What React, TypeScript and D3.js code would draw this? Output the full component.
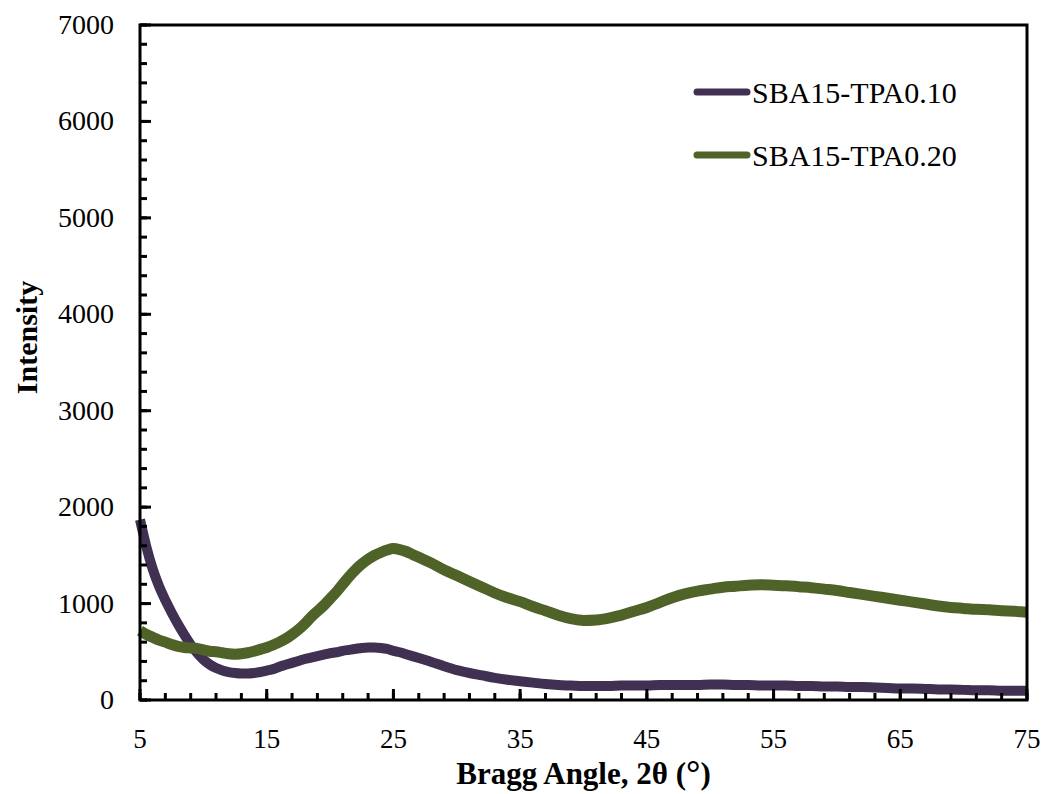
import React from "react";
import * as d3 from "d3";

// Diffraction angles (2θ, degrees) at which intensities were read
const angles: number[] = [
  5, 5.5, 6, 6.5, 7, 7.5, 8, 8.5, 9, 9.5, 10, 10.5, 11, 11.5, 12, 12.5, 13, 13.5, 14, 14.5,
  15, 15.5, 16, 16.5, 17, 17.5, 18, 18.5, 19, 19.5, 20, 20.5, 21, 21.5, 22, 22.5, 23, 23.5,
  24, 24.5, 25, 25.5, 26, 26.5, 27, 28, 29, 30, 31, 32, 33, 34, 35, 36, 37, 38, 39, 40, 41,
  42, 43, 44, 45, 46, 47, 48, 49, 50, 51, 52, 53, 54, 55, 56, 57, 58, 59, 60, 61, 62, 63, 64,
  65, 66, 67, 68, 69, 70, 71, 72, 73, 74, 75,
];

// SBA15-TPA0.10 intensity
const tpa010: number[] = [
  1870, 1590, 1360, 1180, 1035, 905, 785, 675, 575, 490, 420, 368, 332, 307, 290, 280, 275, 275, 280, 290,
  305, 320, 345, 365, 385, 405, 425, 440, 455, 470, 485, 495, 510, 520, 530, 540, 545, 545,
  540, 530, 510, 495, 475, 455, 435, 395, 350, 310, 280, 255, 230, 210, 195, 180, 165, 155, 150, 145, 145,
  145, 150, 150, 150, 155, 155, 155, 155, 160, 160, 155, 155, 150, 150, 150, 145, 145, 140, 140, 135, 135, 130, 125,
  120, 120, 115, 110, 110, 105, 100, 100, 95, 95, 95,
];

// SBA15-TPA0.20 intensity
const tpa020: number[] = [
  720, 680, 650, 620, 600, 575, 555, 545, 540, 535, 520, 505, 500, 490, 480, 475, 480, 490, 505, 525,
  545, 570, 600, 635, 680, 730, 790, 860, 920, 980, 1050, 1120, 1200, 1280, 1350, 1410, 1460, 1500,
  1530, 1555, 1570, 1560, 1540, 1510, 1480, 1420, 1350, 1290, 1230, 1170, 1110, 1060, 1020, 970, 925, 880, 845, 825, 830,
  850, 880, 920, 960, 1010, 1060, 1100, 1130, 1150, 1170, 1180, 1190, 1195, 1190, 1185, 1175, 1165, 1150, 1135, 1115, 1095, 1075, 1055,
  1035, 1015, 995, 975, 960, 950, 940, 935, 925, 920, 910,
];

const seriesNames: string[] = ["SBA15-TPA0.10", "SBA15-TPA0.20"];
const seriesColors: string[] = ["#403152", "#4F6228"];

const xTicks: number[] = [5, 15, 25, 35, 45, 55, 65, 75];
const yTicks: number[] = [0, 1000, 2000, 3000, 4000, 5000, 6000, 7000];

const W = 1043;
const H = 794;
const left = 140;
const right = 1027;
const top = 25;
const bottom = 700;
const font = "'Liberation Serif', 'Times New Roman', serif";

export default function App() {
  const x = d3.scaleLinear().domain([5, 75]).range([left, right]);
  const y = d3.scaleLinear().domain([0, 7000]).range([bottom, top]);

  const line = d3
    .line<number>()
    .x((_, i) => x(angles[i]))
    .y((v) => y(v))
    .curve(d3.curveMonotoneX);

  const xMinor = d3.range(5, 75.001, 2);
  const yMinor = d3.range(0, 7000.001, 200);

  const series = [tpa010, tpa020];
  const widths = [10, 11];

  return (
    <svg
      width={W}
      height={H}
      style={{ position: "absolute", left: 0, top: 0, background: "#fff" }}
      fontFamily={font}
    >
      {/* data lines */}
      {series.map((s, k) => (
        <path
          key={k}
          d={line(s) || ""}
          fill="none"
          stroke={seriesColors[k]}
          strokeWidth={widths[k]}
          strokeLinejoin="round"
        />
      ))}

      {/* minor ticks */}
      {xMinor.map((t) => (
        <line key={"xm" + t} x1={x(t)} x2={x(t)} y1={bottom} y2={bottom - 7} stroke="#000" strokeWidth={3} />
      ))}
      {yMinor.map((t) => (
        <line key={"ym" + t} x1={left} x2={left + 7} y1={y(t)} y2={y(t)} stroke="#000" strokeWidth={3} />
      ))}
      {/* major ticks */}
      {xTicks.map((t) => (
        <line key={"xM" + t} x1={x(t)} x2={x(t)} y1={bottom} y2={bottom - 11} stroke="#000" strokeWidth={3} />
      ))}
      {yTicks.map((t) => (
        <line key={"yM" + t} x1={left} x2={left + 11} y1={y(t)} y2={y(t)} stroke="#000" strokeWidth={3} />
      ))}

      {/* plot frame */}
      <rect x={left} y={top} width={right - left} height={bottom - top} fill="none" stroke="#000" strokeWidth={3} />

      {/* tick labels */}
      {xTicks.map((t) => (
        <text key={"xl" + t} x={x(t)} y={748} textAnchor="middle" fontSize={27}>
          {t}
        </text>
      ))}
      {yTicks.map((t) => (
        <text key={"yl" + t} x={114} y={y(t) + 9} textAnchor="end" fontSize={28}>
          {t}
        </text>
      ))}

      {/* axis titles */}
      <text x={(left + right) / 2} y={784} textAnchor="middle" fontSize={31} fontWeight="bold">
        Bragg Angle, 2θ (<tspan fontSize={36} dy={1}>°</tspan><tspan dy={-1}>)</tspan>
      </text>
      <text
        transform={`translate(37, ${(top + bottom) / 2 - 25}) rotate(-90)`}
        textAnchor="middle"
        fontSize={30}
        fontWeight="bold"
      >
        Intensity
      </text>

      {/* legend */}
      {seriesNames.map((name, k) => (
        <g key={name} transform={`translate(0, ${92 + k * 63})`}>
          <line x1={697} x2={747} y1={0} y2={0} stroke={seriesColors[k]} strokeWidth={7} strokeLinecap="round" />
          <text x={752} y={11} fontSize={30}>
            {name}
          </text>
        </g>
      ))}
    </svg>
  );
}
